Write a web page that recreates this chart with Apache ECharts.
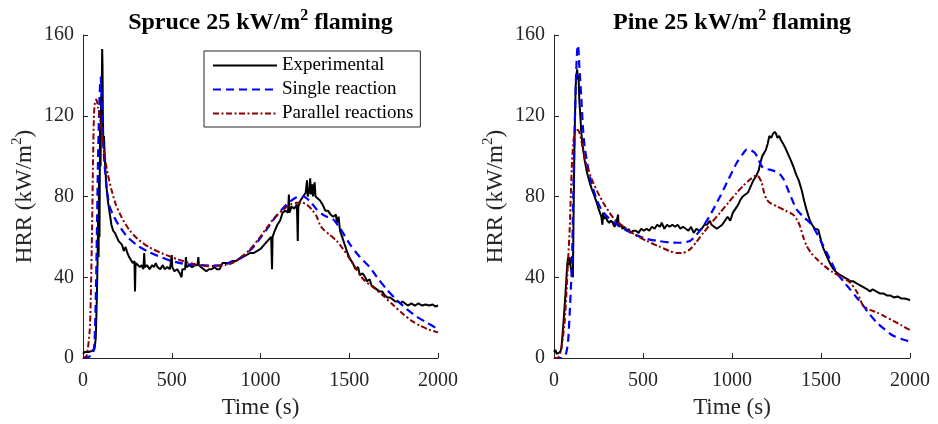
<!DOCTYPE html>
<html>
<head>
<meta charset="utf-8">
<script src="https://cdn.jsdelivr.net/npm/echarts@6/dist/echarts.min.js"></script>
<style>
html,body{margin:0;padding:0;background:#fff;}
#chart{width:938px;height:424px;}
</style>
</head>
<body>
<div id="chart"></div>
<script>
// ---------- DATA ----------
var seriesNames = ['Experimental', 'Single reaction', 'Parallel reactions'];
var panelTitles = ['Spruce 25 kW/m', 'Pine 25 kW/m'];
var xTicks = [0, 500, 1000, 1500, 2000];
var yTicks = [0, 40, 80, 120, 160];

// Spruce – experimental
var spruceExpT = [0,10,30,50,65,72,78,82,85,88,90,93,96,99,102,105,108,110,112,115,118,125,132,140,150,160,170,180,190,200,210,220,230,240,250,260,270,280,290,293,296,310,320,330,340,345,348,360,375,390,400,410,420,435,450,460,475,490,500,503,515,530,545,555,560,575,580,583,600,615,630,645,650,653,665,680,695,710,725,740,755,770,785,800,820,840,860,880,900,920,940,960,980,1000,1020,1040,1060,1065,1068,1080,1095,1110,1125,1140,1155,1160,1163,1175,1190,1205,1210,1213,1225,1240,1255,1262,1266,1275,1280,1284,1292,1296,1305,1310,1320,1335,1350,1365,1380,1395,1410,1425,1430,1440,1448,1460,1475,1490,1505,1520,1535,1550,1560,1575,1590,1600,1615,1625,1640,1655,1670,1685,1700,1715,1730,1745,1760,1775,1790,1800,1815,1830,1850,1870,1890,1910,1930,1950,1970,1985,2000];
var spruceExpV = [2,3,3,3.5,4.5,10,30,48,70,50,90,60,115,95,130,125,153,145,120,105,110,95,85,78,72,66,63,62,60,58,58,56,53,55,52,50,50,47,48,33,47,46,45,46,44,52,45,46,44,46,45,47,45,44,46,44,45,44,51,45,43,44,42,40,44,44,50,45,46,45,46,46,50,46,45,44,43,44,44,45,44,44,47,47,47,48,48,49,50,51,52,52,53,54,56,58,60,44,60,63,66,68,72,73,72,81,72,75,74,76,58,75,78,80,82,88,80,83,89,81,86,80,87,80,80,78,76,73,73,71,70,71,67,70,63,60,56,52,49,47,44,45,41,42,40,38,39,36,35,34,33,33,31,30,30,29,28,28,27,28,27,26,27,26,27,26,26.5,26,26.5,25.5,26];

// Spruce – single reaction
var spruceSingleT = [0,30,55,65,72,78,84,90,96,100,104,110,118,125,135,150,175,200,250,310,370,423,500,580,659,720,780,840,903,960,1035,1090,1147,1200,1241,1280,1317,1360,1410,1450,1504,1560,1617,1665,1711,1770,1824,1880,1936,2000];
var spruceSingleV = [0,0.5,2,8,30,60,95,120,135,139,132,115,100,92,83,75,70,66,60,55.5,52.5,50.5,48,46.5,46,45.8,46,47.5,50.5,55,63.7,70.5,76,79.5,80,77.5,73.6,70.5,68.6,64,56.3,50,44.8,39,34,28.5,24.2,20.5,17.6,14.3];

// Spruce – parallel reactions
var spruceParT = [0,20,38,45,51,57,62,68,75,85,94,108,122,140,160,185,216,260,310,370,441,530,629,700,753,800,847,890,941,990,1035,1080,1129,1170,1204,1235,1260,1290,1317,1335,1354,1390,1429,1465,1504,1540,1579,1635,1692,1750,1805,1850,1899,1950,2000];
var spruceParV = [0,1,14,35,64,100,121,127,128,124,119.7,110,100,91,83.5,76,70,63.5,58.8,55,52,49,46.4,45.5,45.6,46,47.2,50,53.8,59,64.5,69.5,73.6,76,76.9,77,76,73.5,70,66,63.7,61,58,54,49,44,39,35,30.8,26,21.7,18.5,16,14,12.7];

// Pine – experimental
var pineExpT = [0,8,15,25,35,42,50,57,63,70,75,80,84,88,94,100,106,110,114,118,122,126,130,134,138,142,148,153,160,172,185,200,215,228,240,250,258,266,272,276,282,290,300,310,320,330,340,350,360,363,375,385,395,410,420,430,445,460,475,490,505,520,535,550,565,580,595,605,620,635,650,665,680,695,710,725,740,755,770,785,800,815,830,845,860,875,885,900,915,930,945,960,975,990,1005,1020,1035,1045,1060,1075,1090,1105,1120,1135,1150,1160,1170,1180,1190,1200,1210,1220,1230,1240,1248,1255,1265,1275,1288,1300,1315,1330,1344,1360,1375,1392,1405,1420,1438,1450,1465,1485,1495,1510,1532,1550,1570,1588,1610,1630,1650,1665,1682,1700,1720,1740,1760,1775,1790,1810,1830,1850,1870,1888,1910,1930,1950,1970,1990,2000];
var pineExpV = [3,4,2,1.5,3,5,14,22,30,40,47,50,46,50,45,42,40,70,100,120,135,140,143,138,140,128,120,112,106,98,92,87,83,80,77,74,72,70,66,72,69,70,68,67,68,67,65,67,71,65,66,64,65,63,64,62,63,63,62,64,63,64,63,65,64,66,65,67,64,66,65,66,65,66,64,65,64,63,65,62,64,63,64,66,66,68,66,65,64,65,66,68,70,68,72,74,76,78,80,81,82,85,88,90,93,97,100,100,103,106,110,109,111,112,111,109,110,108,106,104,101,98,95,91,88,83,78,73,68,66,64,63.5,60,55,50.5,47,44,42.3,41,40,39,38,38,37,36,35,34,33,34,33,32,32,31,31,30,30.5,29.5,29.5,29,28.5];

// Pine – single reaction
var pineSingleT = [0,40,60,70,79,88,95,101,108,116,124,130,135,142,153,162,172,190,210,238,266,300,341,400,453,520,584,650,697,764,800,839,885,933,980,1026,1060,1083,1105,1129,1150,1167,1190,1213,1240,1270,1290,1307,1335,1363,1400,1438,1475,1513,1550,1588,1625,1663,1700,1738,1775,1813,1860,1906,1950,2000];
var pineSingleV = [0,0,1,3,8,22,35,47,80,113,140,152,155,145,129.5,115,104.8,95,86.8,79,73.6,70,67,63.5,61.2,59,58,57.2,57.1,58,61,65.3,72,80,88.5,96.6,101,103.2,103,101.6,98,95,93.5,93.3,92.5,90.9,88.5,85,79,73.6,70,67,62,55.5,49,42.3,38,34,30,25.8,21.5,17.6,14,11,9.5,8];

// Pine – parallel reactions
var pineParT = [0,20,37,50,60,69,80,88,95,101,108,116,125,135,145,153,170,191,220,247,290,341,400,453,520,584,650,690,720,764,800,839,885,933,980,1026,1065,1101,1125,1139,1152,1167,1180,1195,1220,1251,1300,1344,1365,1382,1400,1420,1445,1476,1520,1569,1620,1663,1700,1720,1738,1775,1813,1860,1906,1950,1990,2000];
var pineParV = [0,0,3,10,18,30.8,50,63.7,82,96.6,106,111.4,113,113,111,108,100,93.3,87,81.8,75,68.6,64.5,61.2,58,55.5,53,52,52,53.8,57.5,62,67,72,77,81.8,85.5,88.4,90,90.4,89.5,86.8,82,78.5,76.5,75.2,73,71,68.5,65.3,60,55.5,52,49,45.5,42.3,40,37.4,33,29,25.8,23.8,22.6,20.5,18.4,16.3,14.3,14];

// ---------- BUILD ----------
function zip(t, v) { var o = []; for (var i = 0; i < t.length; i++) o.push([t[i], v[i]]); return o; }

var SERIF = "'Liberation Serif', 'DejaVu Serif', serif";
var AX = '#262626';
var colors = ['#000000', '#0000ff', '#8b0000'];

function mkSeries(name, data, idx, styleIdx) {
  var ls = { width: 2, color: colors[styleIdx] };
  if (styleIdx === 1) { ls.type = [8, 5]; ls.width = 2.2; }
  if (styleIdx === 2) { ls.type = [6, 2.5, 2, 2.5]; }
  return {
    name: name, type: 'line', xAxisIndex: idx, yAxisIndex: idx,
    data: data, showSymbol: false, symbol: 'none', symbolSize: 0,
    smooth: styleIdx === 0 ? false : 0.25,
    lineStyle: ls, itemStyle: { color: colors[styleIdx] },
    animation: false, z: 2 + styleIdx
  };
}

function mkX(idx) {
  return {
    type: 'value', gridIndex: idx, min: 0, max: 2000, interval: 500,
    name: 'Time (s)', nameLocation: 'middle', nameGap: 38,
    nameTextStyle: { fontFamily: SERIF, fontSize: 23, color: AX },
    axisLine: { show: true, lineStyle: { color: AX, width: 1 } },
    axisTick: { show: true, inside: true, length: 5, lineStyle: { color: AX } },
    axisLabel: { fontFamily: SERIF, fontSize: 20, color: AX, margin: 13,
      formatter: function (v) { return String(v); } },
    splitLine: { show: false }
  };
}
function mkY(idx) {
  return {
    type: 'value', gridIndex: idx, min: 0, max: 160, interval: 40,
    name: '{a|HRR (kW/m}{s|2}{a|)}', nameLocation: 'middle', nameGap: 44, nameRotate: 90,
    nameTextStyle: { fontFamily: SERIF, fontSize: 23, color: AX,
      rich: { a: { fontFamily: SERIF, fontSize: 23, color: AX },
              s: { fontFamily: SERIF, fontSize: 15, color: AX, padding: [0, 0, 14, 0] } } },
    axisLine: { show: true, lineStyle: { color: AX, width: 1 } },
    axisTick: { show: true, inside: true, length: 5, lineStyle: { color: AX } },
    axisLabel: { fontFamily: SERIF, fontSize: 20, color: AX, margin: 9,
      formatter: function (v) { return String(v); } },
    splitLine: { show: false }
  };
}

function titleText(x, label) {
  return {
    type: 'text', x: x, y: 23,
    style: {
      text: '{b|' + label + '}{s|2}{b| flaming}',
      align: 'center', verticalAlign: 'middle',
      rich: {
        b: { fontFamily: SERIF, fontSize: 24, fontWeight: 'bold', fill: '#000' },
        s: { fontFamily: SERIF, fontSize: 16, fontWeight: 'bold', fill: '#000', padding: [0, 0, 14, 0] }
      }
    }
  };
}

var option = {
  backgroundColor: '#ffffff',
  animation: false,
  grid: [
    { left: 83, top: 35, width: 355, height: 324 },
    { left: 554, top: 35, width: 356, height: 324 }
  ],
  xAxis: [mkX(0), mkX(1)],
  yAxis: [mkY(0), mkY(1)],
  legend: {
    data: seriesNames, orient: 'vertical', left: 204, top: 51,
    itemWidth: 64, itemHeight: 12, itemGap: 5,
    padding: [5, 7, 4, 8],
    borderColor: AX, borderWidth: 1, backgroundColor: '#fff',
    itemStyle: { opacity: 0 },
    textStyle: { fontFamily: SERIF, fontSize: 19, color: '#000' },
    selectedMode: false
  },
  graphic: [titleText(260.5, panelTitles[0]), titleText(732, panelTitles[1])],
  series: [
    mkSeries(seriesNames[0], zip(spruceExpT, spruceExpV), 0, 0),
    mkSeries(seriesNames[1], zip(spruceSingleT, spruceSingleV), 0, 1),
    mkSeries(seriesNames[2], zip(spruceParT, spruceParV), 0, 2),
    mkSeries(seriesNames[0], zip(pineExpT, pineExpV), 1, 0),
    mkSeries(seriesNames[1], zip(pineSingleT, pineSingleV), 1, 1),
    mkSeries(seriesNames[2], zip(pineParT, pineParV), 1, 2)
  ]
};

var chart = echarts.init(document.getElementById('chart'), null, { renderer: 'canvas' });
chart.setOption(option);
</script>
</body>
</html>
